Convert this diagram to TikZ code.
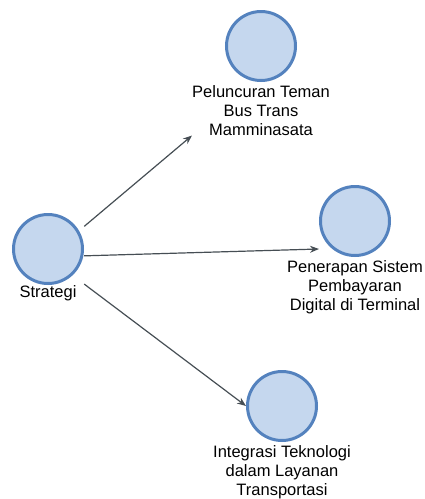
\documentclass[tikz,border=0pt]{standalone}
\usepackage{fontspec}
\setmainfont{Liberation Sans}
\usetikzlibrary{positioning,fit,arrows.meta}
\definecolor{bubbleline}{RGB}{84,130,190}
\definecolor{bubblefill}{RGB}{197,215,238}
\definecolor{arrowgray}{RGB}{70,78,84}
\tikzstyle{bubble} = [ circle, minimum size = 69pt, line width = 3pt, %
                       draw = bubbleline, fill = bubblefill ]
\tikzstyle{caption} = [ align = center, inner sep = 0pt, %
                        font = \fontsize{16.5}{19}\selectfont ]
\tikzstyle{group} = [ inner sep = 0pt ]
\tikzstyle{arrow} = [line width = 1.2pt, draw = arrowgray, %
                     -{Stealth[length=9pt,width=7pt]}]

\begin{document}
\begin{tikzpicture}[x = 1pt, y = -1pt, node distance = 3pt]
      \useasboundingbox (0,0) rectangle (424,499);
      % Circles
      \node (strat)  [bubble] at (48,249)  {};
      \node (luncur) [bubble] at (261,46)  {};
      \node (bayar)  [bubble] at (355,221) {};
      \node (integ)  [bubble] at (282,406) {};
      % Captions
      \node (stratText)  [caption,below = 0pt of strat] {Strategi};
      \node (luncurText) [caption,below = of luncur] %
        {Peluncuran Teman\\Bus Trans\\Mamminasata};
      \node (bayarText)  [caption,below = of bayar] %
        {Penerapan Sistem\\Pembayaran\\Digital di Terminal};
      \node (integText)  [caption,below = of integ] %
        {Integrasi Teknologi\\dalam Layanan\\Transportasi};
      % Groups
      \node (stratGroup) [group,fit = (strat) (stratText)] {};
      % Arrows
      \draw [arrow] (stratGroup) -- (luncurText.south west);
      \draw [arrow] (stratGroup) -- (bayar.west |- strat.east);
      \draw [arrow] (stratGroup) -- (integ.west);
    \end{tikzpicture}
\end{document}
